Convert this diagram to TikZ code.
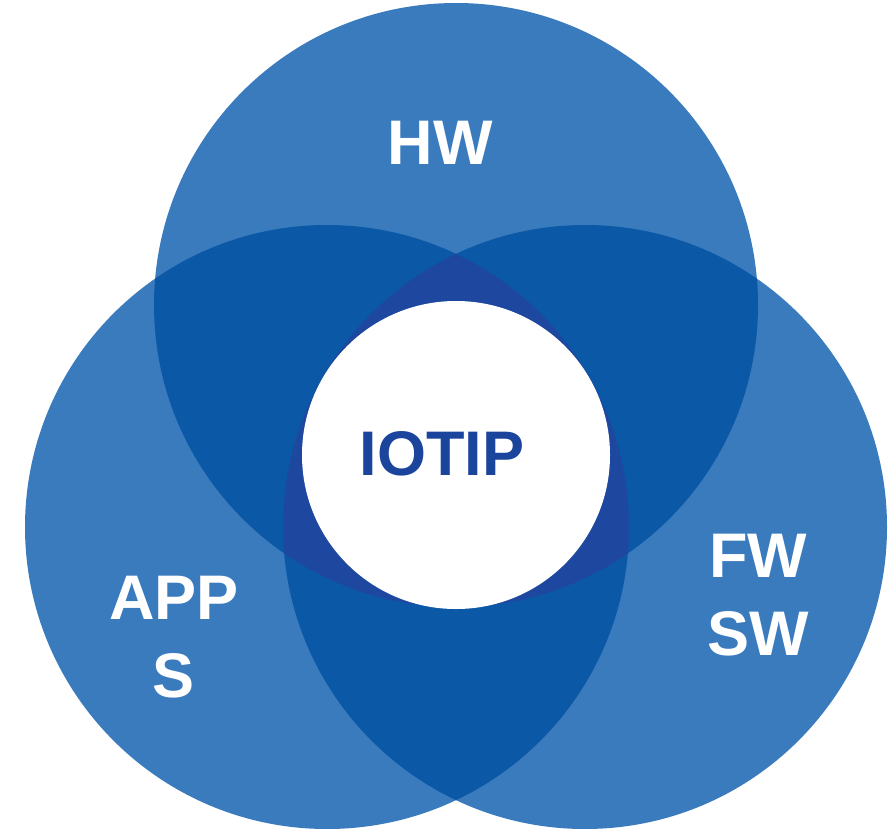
\documentclass[tikz,border=0pt]{standalone}
\usepackage{fontspec}
\setmainfont{Liberation Sans}

\definecolor{oneblue}{HTML}{3A7BBE}
\definecolor{twoblue}{HTML}{0B58A6}
\definecolor{threeblue}{HTML}{1E48A0}
\definecolor{iotipblue}{HTML}{1B449C}

\tikzset{
    label text/.style={text=white, font=\fontsize{63}{78}\selectfont\bfseries, align=center, inner sep=0pt},
}

\begin{document}
\begin{tikzpicture}[x=1pt, y=-1pt]
    \useasboundingbox (0, 0) rectangle (896, 828);

    \coordinate (hw) at (456, 305);
    \coordinate (apps) at (327, 527);
    \coordinate (fwsw) at (585, 527);

    % single areas
    \fill[oneblue] (hw) circle[radius=302pt];
    \fill[oneblue] (apps) circle[radius=302pt];
    \fill[oneblue] (fwsw) circle[radius=302pt];

    % two-way overlaps
    \begin{scope}
        \clip (hw) circle[radius=302pt];
        \fill[twoblue] (apps) circle[radius=302pt];
        \fill[twoblue] (fwsw) circle[radius=302pt];
    \end{scope}
    \begin{scope}
        \clip (apps) circle[radius=302pt];
        \fill[twoblue] (fwsw) circle[radius=302pt];
    \end{scope}

    % three-way overlap
    \begin{scope}
        \clip (hw) circle[radius=302pt];
        \clip (apps) circle[radius=302pt];
        \fill[threeblue] (fwsw) circle[radius=302pt];
    \end{scope}

    \node (core) [circle, fill=white, minimum size=308pt, inner sep=0pt] at (456, 455) {};

    \node (hwlabel) [label text] at (440, 143) {HW};
    \node (appslabel) [label text] at (174, 637) {APP\\S};
    \node (fwswlabel) [label text] at (758, 595) {FW\\SW};
    \node (iotip) [label text, text=iotipblue] at (442, 454) {IOTIP};
\end{tikzpicture}
\end{document}
